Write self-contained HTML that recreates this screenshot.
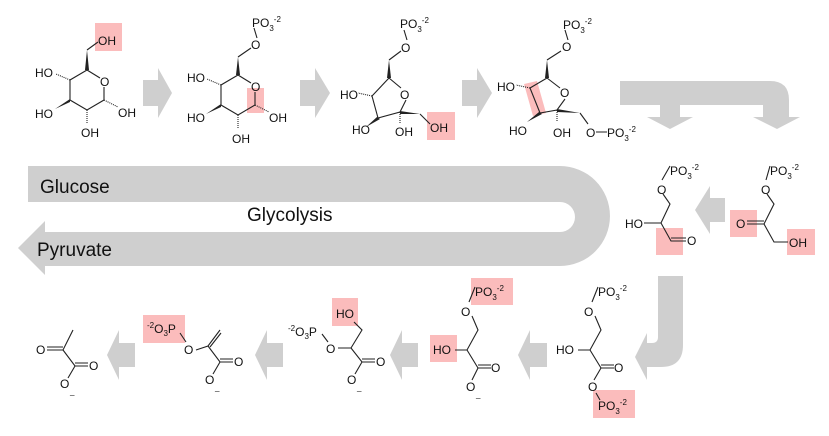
<!DOCTYPE html>
<html><head><meta charset="utf-8"><style>
html,body{margin:0;padding:0;background:#fff;}
svg{display:block;font-family:"Liberation Sans",Arial,sans-serif;}
.b{stroke:#222;stroke-width:1.1;fill:none;}
.t{font-size:12px;fill:#111;}
.s{font-size:8px;fill:#111;}
.h{fill:#fbbcbc;}
.g{fill:#cfcfcf;}
</style></head><body>
<svg width="829" height="436" viewBox="0 0 829 436" xmlns="http://www.w3.org/2000/svg">
<path class="g" d="M28,166 L560,166 A50,50 0 0 1 560,266 L45,266 L45,275 L18,248 L45,221 L45,232 L560,232 A15,15 0 0 0 560,202 L28,202 Z"/>
<text x="40" y="193" style="font-size:19px" fill="#111">Glucose</text>
<text x="247" y="221" style="font-size:19px" fill="#111">Glycolysis</text>
<text x="37" y="256" style="font-size:19px" fill="#111">Pyruvate</text>

<path class="g" d="M143,80 L158,80 L158,68 L172,93 L158,118 L158,106 L143,106 Z"/>
<path class="g" d="M300,80 L315,80 L315,68 L330,93 L315,118 L315,106 L300,106 Z"/>
<path class="g" d="M462,80 L477,80 L477,68 L492,93 L477,118 L477,106 L462,106 Z"/>
<path class="g" d="M620,81 L770,81 Q789,81 789,100 L789,117 L800,117 L777,129 L753,117 L763,117 L763,105 L680,105 L680,117 L693,117 L670,129 L647,117 L660,117 L660,105 L620,105 Z"/>
<path class="g" d="M725,198 L710,198 L710,186 L695,210 L710,234 L710,222 L725,222 Z"/>
<path class="g" d="M658,276 L683,276 L683,345 Q683,367 661,367 L647,367 L647,380 L635,357 L647,333 L647,343 L652,343 Q658,343 658,337 Z"/>
<path class="g" d="M547,343 L530,343 L530,330 L518,355 L530,380 L530,367 L547,367 Z"/>
<path class="g" d="M418,343 L402,343 L402,330 L390,355 L402,380 L402,367 L418,367 Z"/>
<path class="g" d="M283,343 L267,343 L267,330 L255,355 L267,380 L267,367 L283,367 Z"/>
<path class="g" d="M135,343 L119,343 L119,330 L107,355 L119,380 L119,367 L135,367 Z"/>

<rect class="h" x="95" y="23" width="27" height="28"/>
<rect class="h" x="247" y="88" width="17" height="25"/>
<rect class="h" x="427" y="112" width="28" height="28"/>
<polygon class="h" points="524,84 537,81 546,113 533,116"/>
<rect class="h" x="656" y="228" width="27" height="27"/>
<rect class="h" x="730" y="210" width="27" height="27"/>
<rect class="h" x="787" y="229" width="28" height="26"/>
<rect class="h" x="593" y="390" width="42" height="28"/>
<rect class="h" x="471" y="278" width="42" height="27"/>
<rect class="h" x="430" y="335" width="27" height="27"/>
<rect class="h" x="332" y="298" width="26" height="28"/>
<rect class="h" x="143" y="315" width="42" height="28"/>

<!-- Glucose -->
<g>
<path class="b" d="M87,70 L100,78 M104,87 L104,100 L87,110 L70,100 L70,80 L87,70"/>
<text class="t" x="100" y="86">O</text>
<path d="M85,70 L89,70 L87,50 Z" fill="#222"/>
<path class="b" d="M87,50 L98,42"/>
<text class="t" x="98" y="45">OH</text>
<path class="b" d="M70,80 L56,74" stroke-dasharray="1,1"/>
<text class="t" x="35" y="77">HO</text>
<path d="M70,99 L70,102 L55,109 Z" fill="#222"/>
<text class="t" x="35" y="118">HO</text>
<path class="b" d="M104,100 L118,107" stroke-dasharray="1,1"/>
<text class="t" x="118" y="117">OH</text>
<path class="b" d="M87,110 L87,124" stroke-dasharray="1,1"/>
<text class="t" x="81" y="137">OH</text>
</g>
<!-- G6P -->
<g>
<path class="b" d="M238,75 L251,83 M255,92 L255,105 L238,115 L221,105 L221,85 L238,75"/>
<text class="t" x="251" y="91">O</text>
<path d="M236,75 L240,75 L238,57 Z" fill="#222"/>
<path class="b" d="M238,57 L251,48 M257,38 L254,28"/>
<text class="t" x="251" y="49">O</text>
<text class="t" x="252" y="27">PO<tspan class="s" dy="4">3</tspan><tspan class="s" dy="-9">-2</tspan></text>
<path class="b" d="M221,85 L207,79" stroke-dasharray="1,1"/>
<text class="t" x="187" y="82">HO</text>
<path d="M221,104 L221,107 L206,114 Z" fill="#222"/>
<text class="t" x="187" y="122">HO</text>
<path class="b" d="M255,105 L269,112" stroke-dasharray="1,1"/>
<text class="t" x="269" y="122">OH</text>
<path class="b" d="M238,115 L238,129" stroke-dasharray="1,1"/>
<text class="t" x="232" y="143">OH</text>
</g>
<!-- F6P -->
<g>
<path class="b" d="M389,78 L401,88 M406,100 L400,112 L378,118 L372,96 L389,78"/>
<text class="t" x="400" y="99">O</text>
<path d="M387,78 L391,78 L389,60 Z" fill="#222"/>
<path class="b" d="M389,60 L401,51 M407,40 L404,30"/>
<text class="t" x="401" y="52">O</text>
<text class="t" x="400" y="28">PO<tspan class="s" dy="4">3</tspan><tspan class="s" dy="-9">-2</tspan></text>
<path class="b" d="M372,96 L358,93" stroke-dasharray="1,1"/>
<text class="t" x="340" y="99">HO</text>
<path d="M377,117 L380,119 L366,127 Z" fill="#222"/>
<text class="t" x="352" y="134">HO</text>
<path class="b" d="M400,112 L400,124" stroke-dasharray="1,1"/>
<text class="t" x="395" y="136">OH</text>
<path d="M400,111 L400,114 L420,114 Z" fill="#222"/>
<path class="b" d="M420,114 L430,124"/>
<text class="t" x="430" y="132">OH</text>
</g>
<!-- F16BP -->
<g>
<path class="b" d="M547,78 L560,88 M565,99 L557,110 L540,113 L530,88 L547,78"/>
<text class="t" x="560" y="97">O</text>
<path d="M545,78 L549,78 L547,60 Z" fill="#222"/>
<path class="b" d="M547,60 L561,51 M568,40 L565,30"/>
<text class="t" x="562" y="51">O</text>
<text class="t" x="563" y="29">PO<tspan class="s" dy="4">3</tspan><tspan class="s" dy="-9">-2</tspan></text>
<path class="b" d="M530,88 L516,85" stroke-dasharray="1,1"/>
<text class="t" x="497" y="91">HO</text>
<path d="M539,112 L542,114 L527,122 Z" fill="#222"/>
<text class="t" x="509" y="135">HO</text>
<path class="b" d="M557,110 L557,122" stroke-dasharray="1,1"/>
<text class="t" x="553" y="137">OH</text>
<path d="M557,109 L557,112 L580,113 Z" fill="#222"/>
<path class="b" d="M580,113 L588,124 M596,132 L607,132"/>
<text class="t" x="586" y="137">O</text>
<text class="t" x="607" y="137">PO<tspan class="s" dy="4">3</tspan><tspan class="s" dy="-9">-2</tspan></text>
</g>
<!-- DHAP -->
<g>
<text class="t" x="770" y="175">PO<tspan class="s" dy="4">3</tspan><tspan class="s" dy="-9">-2</tspan></text>
<path class="b" d="M770,166 L766,180 M767,194 L774,204 L764,224 L747,224 M764,221 L747,221 M764,224 L774,242 L788,242"/>
<text class="t" x="761" y="194">O</text>
<text class="t" x="736" y="228">O</text>
<text class="t" x="789" y="247">OH</text>
</g>
<!-- G3P -->
<g>
<text class="t" x="670" y="175">PO<tspan class="s" dy="4">3</tspan><tspan class="s" dy="-9">-2</tspan></text>
<path class="b" d="M670,166 L662,180 M663,194 L670,204 L661,223 L644,223 M661,223 L671,241 L686,241 M671,238 L686,238"/>
<text class="t" x="657" y="194">O</text>
<text class="t" x="625" y="228">HO</text>
<text class="t" x="687" y="245">O</text>
</g>
<!-- 1,3BPG -->
<g>
<text class="t" x="598" y="296">PO<tspan class="s" dy="4">3</tspan><tspan class="s" dy="-9">-2</tspan></text>
<path class="b" d="M598,287 L592,302 M595,316 L601,330 L590,350 L578,350 M590,350 L601,368 L614,368 M601,365 L614,365 M601,368 L594,380 M596,393 L600,400"/>
<text class="t" x="584" y="316">O</text>
<text class="t" x="556" y="354">HO</text>
<text class="t" x="614" y="372">O</text>
<text class="t" x="588" y="391">O</text>
<text class="t" x="598" y="410">PO<tspan class="s" dy="4">3</tspan><tspan class="s" dy="-9">-2</tspan></text>
</g>
<!-- 3PG -->
<g>
<text class="t" x="475" y="296">PO<tspan class="s" dy="4">3</tspan><tspan class="s" dy="-9">-2</tspan></text>
<path class="b" d="M475,287 L469,302 M472,316 L478,330 L467,350 L455,350 M467,350 L478,368 L491,368 M478,365 L491,365 M478,368 L472,380"/>
<text class="t" x="461" y="316">O</text>
<text class="t" x="433" y="354">HO</text>
<text class="t" x="491" y="372">O</text>
<text class="t" x="466" y="391">O</text>
<text class="s" x="476" y="397">_</text>
</g>
<!-- 2PG -->
<g>
<text class="t" x="336" y="318">HO</text>
<text class="t" x="288" y="336"><tspan class="s" dy="-5">-2</tspan><tspan dy="5">O</tspan><tspan class="s" dy="3">3</tspan><tspan dy="-3">P</tspan></text>
<path class="b" d="M322,334 L328,342 M338,348 L351,348 L362,330 L354,322 M351,348 L362,362 L375,362 M362,359 L375,359 M362,362 L355,374"/>
<text class="t" x="326" y="353">O</text>
<text class="t" x="376" y="366">O</text>
<text class="t" x="347" y="384">O</text>
<text class="s" x="357" y="390">_</text>
</g>
<!-- PEP -->
<g>
<text class="t" x="147" y="333"><tspan class="s" dy="-5">-2</tspan><tspan dy="5">O</tspan><tspan class="s" dy="3">3</tspan><tspan dy="-3">P</tspan></text>
<path class="b" d="M180,333 L186,342 M196,350 L208,346 L220,330 M210,347 L221,333 M208,346 L220,362 L233,362 M220,359 L233,359 M220,362 L213,374"/>
<text class="t" x="184" y="354">O</text>
<text class="t" x="234" y="366">O</text>
<text class="t" x="205" y="384">O</text>
<text class="s" x="215" y="390">_</text>
</g>
<!-- Pyruvate -->
<g>
<path class="b" d="M73,330 L63,350 L47,350 M63,347 L47,347 M63,350 L75,366 L88,366 M75,363 L88,363 M75,366 L68,378"/>
<text class="t" x="36" y="354">O</text>
<text class="t" x="89" y="370">O</text>
<text class="t" x="60" y="388">O</text>
<text class="s" x="70" y="394">_</text>
</g>
</svg>
</body></html>
